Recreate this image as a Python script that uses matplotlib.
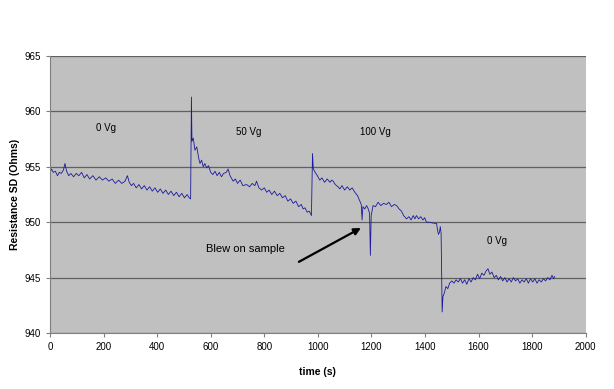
import matplotlib.pyplot as plt

plt.rcParams['font.family'] = ['Liberation Sans', 'DejaVu Sans']

# values, one pair of lists per gate voltage step
t_0vg = [0, 6, 12, 20, 28, 35, 42, 50, 56, 62, 70, 78, 88, 98, 108, 118, 128, 138, 148, 160,
         172, 184, 196, 208, 220, 232, 244, 256, 268, 280, 289, 296, 304, 312, 322, 332, 342,
         352, 362, 372, 382, 392, 402, 412, 422, 432, 442, 452, 462, 472, 482, 492, 502, 512,
         520, 525]
r_0vg = [954.5, 954.8, 954.5, 954.6, 954.2, 954.5, 954.4, 954.7, 955.3, 954.6, 954.2, 954.4,
         954.1, 954.4, 954.2, 954.5, 954.0, 954.3, 953.9, 954.2, 953.8, 954.1, 953.8, 954.0,
         953.7, 953.9, 953.5, 953.8, 953.5, 953.7, 954.2, 953.6, 953.3, 953.5, 953.1, 953.4,
         953.0, 953.3, 952.9, 953.2, 952.8, 953.1, 952.7, 953.0, 952.6, 952.9, 952.5, 952.8,
         952.4, 952.7, 952.3, 952.6, 952.2, 952.5, 952.2, 952.1]

t_50vg = [528, 530, 535, 541, 548, 555, 560, 566, 572, 578, 585, 592, 600, 608, 616, 624, 632,
          640, 648, 658, 665, 672, 684, 692, 700, 710, 720, 734, 745, 755, 765, 771, 780, 790,
          800, 809, 818, 828, 838, 848, 858, 868, 878, 888, 898, 908, 918, 928, 938, 945, 952,
          960, 968, 976]
r_50vg = [961.3, 957.3, 957.6, 956.5, 956.8, 955.8, 955.3, 955.6, 955.0, 955.3, 954.9, 955.1,
          954.5, 954.3, 954.6, 954.2, 954.5, 954.1, 954.4, 954.5, 954.8, 954.2, 953.7, 953.9,
          953.5, 953.8, 953.3, 953.4, 953.2, 953.5, 953.3, 953.7, 953.1, 952.9, 953.1, 952.7,
          952.9, 952.5, 952.8, 952.4, 952.6, 952.2, 952.4, 951.9, 952.1, 951.7, 951.9, 951.4,
          951.6, 951.2, 951.3, 950.9, 951.0, 950.6]

t_100vg = [980, 983, 990, 998, 1007, 1015, 1025, 1035, 1045, 1052, 1057, 1065, 1075, 1082, 1090,
           1100, 1110, 1119, 1128, 1138, 1148, 1157, 1162, 1165, 1168, 1175, 1182, 1188, 1193,
           1196, 1199, 1206, 1215, 1225, 1235, 1245, 1256, 1265, 1275, 1285, 1294, 1303, 1312,
           1320, 1331, 1340, 1348, 1356, 1362, 1368, 1376, 1384, 1392, 1399, 1405, 1415, 1425,
           1435, 1443, 1446, 1450, 1454, 1457, 1460]
r_100vg = [956.2, 954.8, 954.5, 954.2, 953.8, 954.0, 953.6, 953.9, 953.6, 953.8, 953.7, 953.4,
           953.2, 953.0, 953.3, 952.9, 953.2, 952.9, 953.1, 952.7, 952.4, 951.9, 951.6, 950.2,
           951.4, 951.2, 951.5, 951.2, 950.8, 947.0, 950.6, 951.5, 951.4, 951.8, 951.5, 951.7,
           951.6, 951.8, 951.4, 951.6, 951.5, 951.2, 951.0, 950.6, 950.3, 950.5, 950.2, 950.6,
           950.3, 950.6, 950.3, 950.5, 950.2, 950.4, 950.0, 950.0, 949.95, 949.9, 949.9, 949.4,
           948.9, 949.1, 949.6, 949.0]

t_0vg_b = [1464, 1467, 1472, 1478, 1485, 1492, 1500, 1508, 1516, 1524, 1532, 1540, 1548, 1556,
           1564, 1572, 1580, 1588, 1596, 1604, 1612, 1620, 1628, 1635, 1642, 1650, 1658, 1666,
           1674, 1682, 1690, 1698, 1706, 1714, 1722, 1730, 1738, 1746, 1754, 1762, 1770, 1778,
           1786, 1794, 1802, 1810, 1818, 1826, 1834, 1842, 1850, 1858, 1866, 1874, 1880, 1884]
r_0vg_b = [941.9, 943.3, 943.6, 944.2, 944.0, 944.5, 944.7, 944.5, 944.8, 944.6, 944.9, 944.5,
           944.8, 944.4, 944.9, 944.6, 945.0, 944.8, 945.3, 944.9, 945.4, 945.2, 945.6, 945.8,
           945.3, 945.5, 945.0, 945.2, 944.8, 945.1, 944.7, 945.0, 944.6, 944.9, 944.6, 945.0,
           944.7, 944.9, 944.5, 944.8, 944.6, 944.9, 944.5, 944.9, 944.6, 944.9, 944.5, 944.8,
           944.6, 944.9, 944.7, 945.0, 944.8, 945.2, 944.9, 945.1]

time = t_0vg + t_50vg + t_100vg + t_0vg_b
resistance = r_0vg + r_50vg + r_100vg + r_0vg_b

fig = plt.figure(figsize=(6.14, 3.89), dpi=100)
ax = fig.add_axes([0.0814, 0.144, 0.8726, 0.712])
ax.set_facecolor('#c0c0c0')

ax.plot(time, resistance, color='#1a1a9c', linewidth=0.6)

ax.set_xlim(0, 2000)
ax.set_ylim(940, 965)
ax.set_xticks(range(0, 2001, 200))
ax.set_yticks(range(940, 966, 5))
ax.yaxis.grid(True, color='#606060', linewidth=0.9)
ax.set_axisbelow(True)
for s in ['top', 'right']:
    ax.spines[s].set_visible(False)
for s in ['left', 'bottom']:
    ax.spines[s].set_color('#808080')
ax.tick_params(labelsize=7, length=3, color='#808080', direction='out')

ax.set_xlabel('time (s)', fontsize=7.5, fontweight='bold', labelpad=11)
ax.set_ylabel('Resistance SD (Ohms)', fontsize=7.5, fontweight='bold', labelpad=3)

# labels for gate voltage steps
ax.text(209, 958.5, '0 Vg', fontsize=7, ha='center', va='center')
ax.text(742, 958.1, '50 Vg', fontsize=7, ha='center', va='center')
ax.text(1213, 958.1, '100 Vg', fontsize=7, ha='center', va='center')
ax.text(1668, 948.3, '0 Vg', fontsize=7, ha='center', va='center')
ax.annotate('', xy=(1170, 949.6), xytext=(920, 946.3),
            arrowprops=dict(arrowstyle='-|>', color='black', lw=1.6, mutation_scale=10))
ax.text(728, 947.6, 'Blew on sample', fontsize=8, ha='center', va='center')

plt.savefig('out.png')
